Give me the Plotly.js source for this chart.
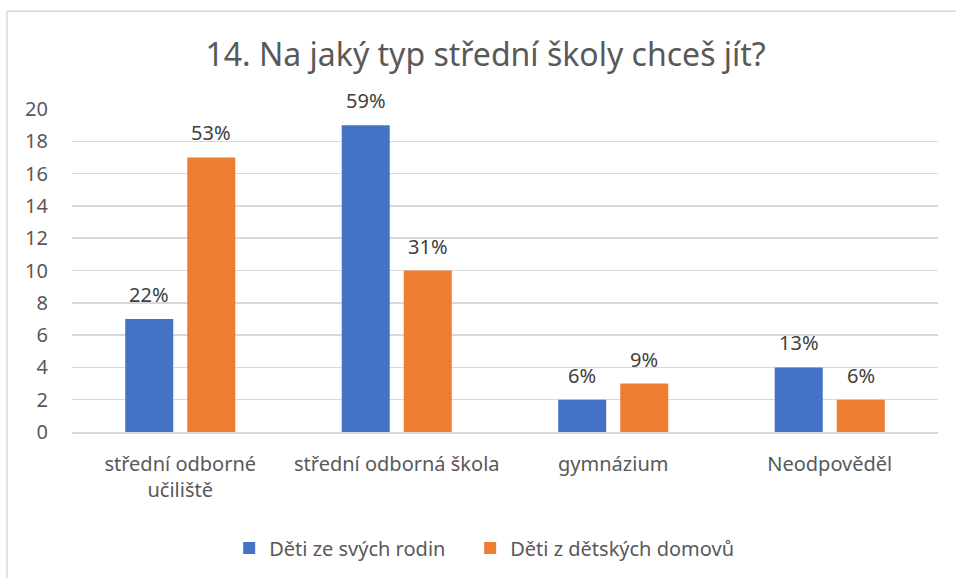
<!DOCTYPE html>
<html>
<head>
<meta charset="utf-8">
<script src="https://cdn.plot.ly/plotly-3.0.1.min.js"></script>
<style>html,body{margin:0;padding:0;background:#fff;}#chart{width:956px;height:578px;}</style>
</head>
<body>
<div id="chart"></div>
<script>
const categories = ["střední odborné<br>učiliště", "střední odborná škola", "gymnázium", "Neodpověděl"];
const seriesNames = ["Děti ze svých rodin", "Děti z dětských domovů"];
const rodinValues = [7, 19, 2, 4];
const rodinLabels = ["22%", "59%", "6%", "13%"];
const domovyValues = [17, 10, 3, 2];
const domovyLabels = ["53%", "31%", "9%", "6%"];
const yTicks = [0, 2, 4, 6, 8, 10, 12, 14, 16, 18, 20];

const font = "'Noto Sans', sans-serif";
const textColor = "#595959";
const labelColor = "#404040";

const traces = [
  {type: "bar", name: seriesNames[0], x: categories, y: rodinValues, legend: "legend",
   marker: {color: "#4472C4"}, hoverinfo: "skip"},
  {type: "bar", name: seriesNames[1], x: categories, y: domovyValues, legend: "legend2",
   marker: {color: "#ED7D31"}, hoverinfo: "skip"}
];

// data labels above each bar, built from the series arrays
const groupOffset = 31; // half the per-series slot width in px
const annotations = [];
[[rodinValues, rodinLabels, -groupOffset], [domovyValues, domovyLabels, groupOffset]].forEach(([vals, labs, dx]) => {
  vals.forEach((v, i) => {
    annotations.push({x: categories[i], y: v, xref: "x", yref: "y", text: labs[i], showarrow: false,
      xanchor: "center", yanchor: "bottom", xshift: dx, yshift: 9,
      font: {family: font, size: 20, color: labelColor}});
  });
});

const legendBase = {orientation: "h", yanchor: "middle", y: -0.355, xanchor: "left",
  font: {family: font, size: 20, color: textColor}, itemwidth: 30, bgcolor: "rgba(0,0,0,0)"};

const layout = {
  width: 956, height: 578,
  margin: {l: 72, r: 18, t: 109, b: 145},
  paper_bgcolor: "#fff", plot_bgcolor: "#fff",
  font: {family: font, color: textColor, size: 20},
  title: {text: "14. Na jaký typ střední školy chceš jít?", font: {family: font, size: 32, color: textColor},
          x: 0.508, xref: "container", xanchor: "center", y: 0.905, yref: "container", yanchor: "middle"},
  barmode: "group", bargap: 0.427, bargroupgap: 0.226,
  xaxis: {type: "category", showgrid: false, showline: true, linecolor: "#d9d9d9", linewidth: 1.5,
          ticks: "", tickfont: {family: font, size: 20, color: textColor}, ticklabelstandoff: 13},
  yaxis: {range: [0, 20], tickvals: yTicks, showgrid: true, gridcolor: "#d9d9d9", gridwidth: 1.5,
          zeroline: false, showline: false, ticks: "", ticklabelstandoff: 23,
          tickfont: {family: font, size: 20, color: textColor}},
  showlegend: true,
  legend: Object.assign({}, legendBase, {x: 0.1815}),
  legend2: Object.assign({}, legendBase, {x: 0.4598}),
  annotations: annotations,
  shapes: [
    {type: "line", xref: "paper", yref: "paper", x0: -0.0751, x1: 1.03, y0: 1.3025, y1: 1.3025,
     line: {color: "#d9d9d9", width: 1.5}},
    {type: "line", xref: "paper", yref: "paper", x0: -0.0751, x1: -0.0751, y0: 1.3025, y1: -0.46,
     line: {color: "#d9d9d9", width: 1.5}}
  ]
};

Plotly.newPlot("chart", traces, layout, {displayModeBar: false, staticPlot: true});
</script>
</body>
</html>
